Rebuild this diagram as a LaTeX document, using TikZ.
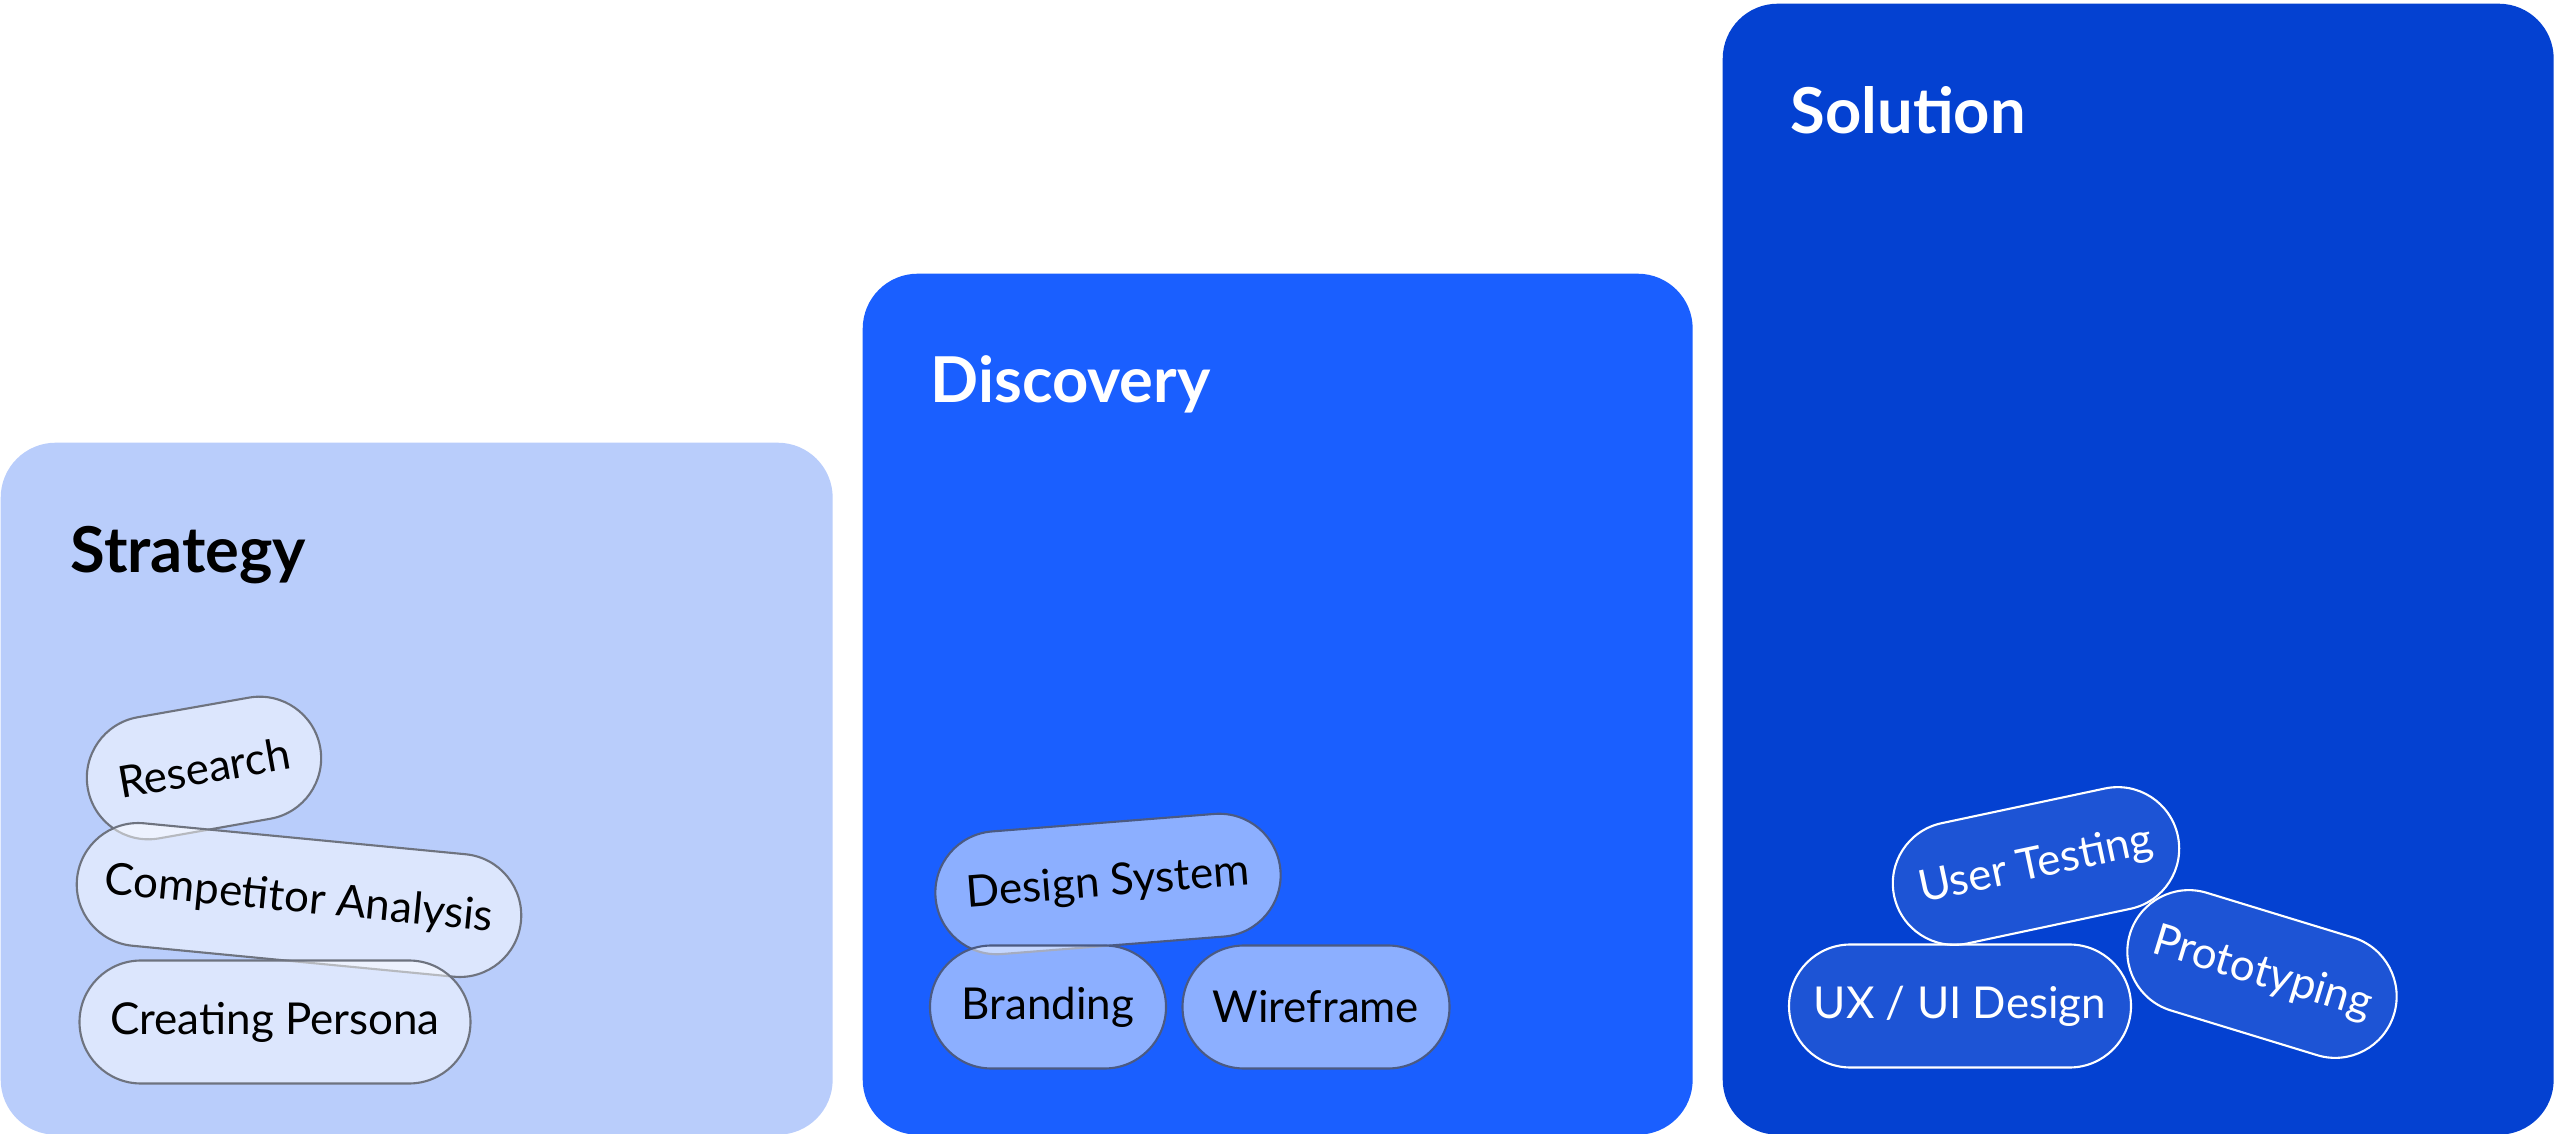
\documentclass[tikz,border=0pt]{standalone}
\usepackage{fontspec}
\setmainfont{Lato}
\usetikzlibrary{shapes.misc}

\definecolor{strategyblue}{HTML}{B9CDFB}
\definecolor{discoveryblue}{HTML}{1A5FFF}
\definecolor{solutionblue}{HTML}{0441D1}
\definecolor{pillgrey}{HTML}{6E737F}
\definecolor{pilldark}{HTML}{4B5A82}

\tikzset{
  phase/.style={rectangle, rounded corners=5.5mm, inner sep=0pt, anchor=north west},
  title/.style={anchor=base west, inner sep=0pt, font=\fontsize{18}{20}\selectfont\bfseries},
  pill/.style={rounded rectangle, draw, line width=0.6pt, fill=white, text opacity=1,
    minimum height=12.3mm, inner xsep=0pt, font=\fontsize{12.5}{14}\selectfont},
  lightpill/.style={pill, draw=pillgrey, fill opacity=0.5, text=black},
  midpill/.style={pill, draw=pilldark, fill opacity=0.5, text=black},
  darkpill/.style={pill, draw=white, fill opacity=0.1, text=white}
}

\begin{document}
\begin{tikzpicture}[x=0.1mm, y=-0.1mm]
  \useasboundingbox (0,0) rectangle (2560,1134);

  % the three phases
  \node[phase, fill=strategyblue, minimum width=83.2mm, minimum height=69.2mm] (strategy) at (0,442) {};
  \node[phase, fill=discoveryblue, minimum width=83.0mm, minimum height=86.1mm] (discovery) at (862,273) {};
  \node[phase, fill=solutionblue, minimum width=83.1mm, minimum height=113.1mm] (solution) at (1722,3) {};

  \node[title, text=black] (strategytitle) at (70,573) {Strategy};
  \node[title, text=white] (discoverytitle) at (930,403) {Discovery};
  \node[title, text=white] (solutiontitle) at (1790,134) {Solution};

  % strategy
  \node[lightpill, minimum width=23.6mm, rotate=10] (research) at (204,768) {Research};
  \node[lightpill, minimum width=44.6mm, rotate=-5.5] (competitor) at (299,900) {Competitor Analysis};
  \node[lightpill, minimum width=39.1mm] (persona) at (275,1022) {Creating Persona};

  % discovery
  \node[midpill, minimum width=34.6mm, rotate=4.5] (designsystem) at (1108,884) {Design System};
  \node[midpill, minimum width=23.6mm] (branding) at (1048,1007) {Branding};
  \node[midpill, minimum width=26.7mm] (wireframe) at (1316,1007) {Wireframe};

  % solution
  \node[darkpill, minimum width=29.0mm, rotate=12] (usertesting) at (2036,866) {User Testing};
  \node[darkpill, minimum width=34.2mm] (uxui) at (1960,1006) {UX / UI Design};
  \node[darkpill, minimum width=27.6mm, rotate=-17] (prototyping) at (2262,974) {Prototyping};
\end{tikzpicture}
\end{document}
